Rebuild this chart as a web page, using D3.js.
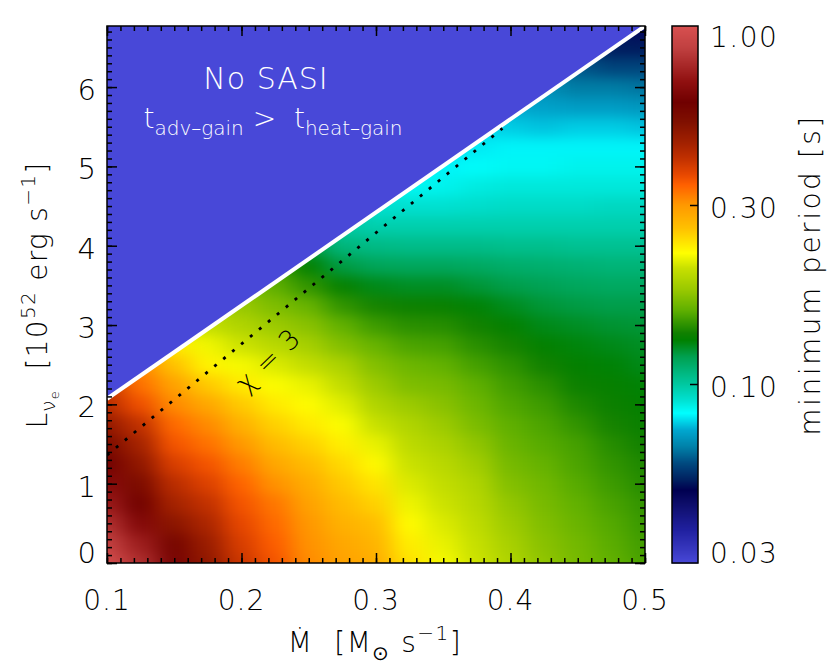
<!DOCTYPE html>
<html>
<head>
<meta charset="utf-8">
<script src="https://cdn.jsdelivr.net/npm/d3@7"></script>
<style>
  body { margin: 0; background: #fff; }
  svg text { font-family: "DejaVu Sans", sans-serif; font-weight: 200; }
</style>
</head>
<body>
<script>
// accretion rate grid (columns) and luminosity grid (rows)
var mdot = [0.1, 0.125, 0.15, 0.175, 0.2, 0.225, 0.25, 0.275, 0.3, 0.325, 0.35, 0.375, 0.4, 0.425, 0.45, 0.475, 0.5]
var lum = [0, 0.25, 0.5, 0.75, 1, 1.25, 1.5, 1.75, 2, 2.25, 2.5, 2.75, 3, 3.25, 3.5, 3.75, 4, 4.25, 4.5, 4.75, 5, 5.25, 5.5, 5.75, 6, 6.25, 6.5, 6.75]

// minimum period [s], one list per mdot column, starting at lum = 0 (stops just above the SASI limit)
var period = [
  [0.97, 0.88, 0.80, 0.72, 0.66, 0.61, 0.54, 0.48, 0.42, 0.40],
  [0.80, 0.73, 0.65, 0.59, 0.54, 0.49, 0.45, 0.41, 0.36, 0.33, 0.31],
  [0.62, 0.57, 0.50, 0.45, 0.42, 0.385, 0.355, 0.335, 0.31, 0.29, 0.26, 0.235],
  [0.49, 0.47, 0.44, 0.41, 0.38, 0.355, 0.33, 0.31, 0.285, 0.255, 0.23, 0.218, 0.20],
  [0.40, 0.385, 0.37, 0.355, 0.34, 0.32, 0.30, 0.275, 0.255, 0.235, 0.22, 0.205, 0.19, 0.178, 0.168],
  [0.355, 0.345, 0.335, 0.325, 0.305, 0.285, 0.265, 0.25, 0.235, 0.222, 0.21, 0.195, 0.18, 0.168, 0.157, 0.148],
  [0.31, 0.305, 0.30, 0.29, 0.28, 0.265, 0.25, 0.235, 0.225, 0.215, 0.20, 0.185, 0.172, 0.16, 0.145, 0.132, 0.12],
  [0.29, 0.285, 0.275, 0.265, 0.255, 0.245, 0.232, 0.222, 0.212, 0.20, 0.188, 0.17, 0.158, 0.145, 0.133, 0.12, 0.108, 0.099],
  [0.28, 0.272, 0.263, 0.25, 0.238, 0.226, 0.215, 0.203, 0.19, 0.18, 0.17, 0.16, 0.148, 0.138, 0.127, 0.116, 0.106, 0.097, 0.09],
  [0.24, 0.233, 0.225, 0.217, 0.21, 0.204, 0.197, 0.19, 0.18, 0.168, 0.162, 0.152, 0.143, 0.135, 0.125, 0.115, 0.105, 0.097, 0.09, 0.084],
  [0.22, 0.215, 0.21, 0.205, 0.2, 0.195, 0.188, 0.18, 0.172, 0.166, 0.158, 0.15, 0.142, 0.134, 0.125, 0.115, 0.105, 0.097, 0.09, 0.085, 0.081, 0.078],
  [0.205, 0.202, 0.198, 0.194, 0.19, 0.183, 0.175, 0.167, 0.162, 0.157, 0.15, 0.143, 0.137, 0.13, 0.122, 0.114, 0.105, 0.097, 0.091, 0.087, 0.083, 0.08, 0.078],
  [0.19, 0.186, 0.181, 0.176, 0.17, 0.165, 0.161, 0.157, 0.153, 0.149, 0.144, 0.138, 0.132, 0.126, 0.119, 0.112, 0.104, 0.097, 0.092, 0.088, 0.084, 0.081, 0.077, 0.073],
  [0.175, 0.172, 0.169, 0.166, 0.163, 0.159, 0.155, 0.152, 0.148, 0.143, 0.137, 0.132, 0.127, 0.122, 0.117, 0.111, 0.104, 0.097, 0.092, 0.088, 0.084, 0.081, 0.076, 0.072, 0.068],
  [0.166, 0.164, 0.161, 0.158, 0.155, 0.152, 0.15, 0.145, 0.14, 0.135, 0.132, 0.129, 0.125, 0.12, 0.115, 0.11, 0.103, 0.097, 0.092, 0.088, 0.085, 0.081, 0.077, 0.071, 0.065, 0.06],
  [0.158, 0.156, 0.154, 0.151, 0.148, 0.145, 0.142, 0.138, 0.135, 0.133, 0.13, 0.127, 0.123, 0.119, 0.114, 0.109, 0.103, 0.097, 0.093, 0.088, 0.085, 0.081, 0.077, 0.071, 0.065, 0.058, 0.052],
  [0.151, 0.149, 0.147, 0.145, 0.142, 0.14, 0.137, 0.134, 0.132, 0.13, 0.127, 0.125, 0.122, 0.119, 0.114, 0.109, 0.103, 0.097, 0.093, 0.088, 0.085, 0.081, 0.076, 0.07, 0.064, 0.058, 0.052, 0.047]
]

// SASI limit (white line) and chi = 3 (dotted line)
var limitMdot = [0.1, 0.5]
var limitLum = [2.07, 6.77]
var chiMdot = [0.1, 0.394]
var chiLum = [1.36, 5.48]

var mdotRange = [0.1, 0.5]
var lumRange = [0, 6.77]
var xTicks = [0.1, 0.2, 0.3, 0.4, 0.5]
var xTickLabels = ["0.1", "0.2", "0.3", "0.4", "0.5"]
var yTicks = [0, 1, 2, 3, 4, 5, 6]
var cbTicks = [0.03, 0.1, 0.3, 1]
var cbTickLabels = ["0.03", "0.10", "0.30", "1.00"]

// colour table, position along the bar (0 bottom .. 1 top)
var paletteStops = [0, .024, .061, .104, .136, .155, .186, .216, .248, .279, .304, .333, .354, .384, .415, .428,
  .471, .508, .549, .577, .624, .667, .704, .723, .754, .784, .821, .858, .897, .927, .959, 1]
var paletteColors = ["#4848d8", "#3838c0", "#2020a0", "#101070", "#000050", "#002060", "#004a80", "#0080a8", "#00a8d0",
  "#00ffff", "#00e0d0", "#00c8a0", "#00b880", "#00a050", "#008000", "#108000", "#60b000", "#98c800", "#c8e000",
  "#ffff00", "#ffc000", "#ff9800", "#ff6000", "#e84800", "#c03000", "#a02000", "#801000", "#700000", "#901010",
  "#a82828", "#c04040", "#d85050"]

var width = 830,
    height = 671,
    pLeft = 107, pRight = 645, pTop = 26, pBottom = 563

var svg = d3.select("body")
  .append("svg")
  .attr("width", width)
  .attr("height", height)

var x = d3.scaleLinear().domain(mdotRange).range([pLeft, pRight])
var y = d3.scaleLinear().domain(lumRange).range([pBottom, pTop])
var cb = d3.scaleLog().domain(cbTicks).range([pBottom, 384, 205, pTop])
var cbPos = d3.scaleLog().domain(cbTicks).range([0, 1 / 3, 2 / 3, 1]).clamp(true)
var palette = d3.scaleLinear().domain(paletteStops).range(paletteColors).interpolate(d3.interpolateRgb)
function colorOf(v) { return palette(cbPos(v)) }

var defs = svg.append("defs")
defs.append("clipPath").attr("id", "plotclip")
  .append("rect").attr("x", pLeft).attr("y", pTop).attr("width", pRight - pLeft).attr("height", pBottom - pTop)

var smooth = defs.append("filter").attr("id", "smooth")
  .attr("filterUnits", "userSpaceOnUse")
  .attr("x", 0).attr("y", 0).attr("width", width).attr("height", height)
  .attr("color-interpolation-filters", "sRGB")
smooth.append("feGaussianBlur").attr("stdDeviation", "11 6.5")
smooth.append("feComponentTransfer").append("feFuncA").attr("type", "linear").attr("slope", 40).attr("intercept", 0)

var cells = []
period.forEach(function(col, i) {
  col.forEach(function(v, j) { cells.push({ m: mdot[i], l: lum[j], v: v }) })
})
var dm = (mdot[1] - mdot[0]) / 2,
    dl = (lum[1] - lum[0]) / 2

var plot = svg.append("g").attr("clip-path", "url(#plotclip)")

plot.append("g")
  .attr("filter", "url(#smooth)")
  .selectAll("rect")
  .data(cells)
  .enter().append("rect")
  .attr("x", function(d) { return x(d.m - dm) - 0.5 })
  .attr("y", function(d) { return y(d.l + dl) - 0.5 })
  .attr("width", function(d) { return x(d.m + dm) - x(d.m - dm) + 1 })
  .attr("height", function(d) { return y(d.l - dl) - y(d.l + dl) + 1 })
  .attr("fill", function(d) { return colorOf(d.v) })

// no SASI region
plot.append("path")
  .attr("d", "M" + x(limitMdot[0]) + "," + y(limitLum[0]) +
    "L" + x(limitMdot[1]) + "," + y(limitLum[1]) +
    "L" + x(limitMdot[1]) + "," + (pTop - 5) +
    "L" + (pLeft - 5) + "," + (pTop - 5) +
    "L" + (pLeft - 5) + "," + y(limitLum[0]) + "Z")
  .attr("fill", colorOf(cbTicks[0]))

plot.append("line")
  .attr("x1", x(limitMdot[0])).attr("y1", y(limitLum[0]))
  .attr("x2", x(limitMdot[1])).attr("y2", y(limitLum[1]))
  .attr("stroke", "#fff").attr("stroke-width", 4)

plot.append("line")
  .attr("x1", x(chiMdot[0])).attr("y1", y(chiLum[0]))
  .attr("x2", x(chiMdot[1])).attr("y2", y(chiLum[1]))
  .attr("stroke", "#000").attr("stroke-width", 2.8)
  .attr("stroke-dasharray", "3 8.6")

svg.append("text")
  .attr("transform", "translate(268,360) rotate(-44)")
  .attr("text-anchor", "middle")
  .attr("dominant-baseline", "central")
  .style("white-space", "pre")
  .attr("font-size", 27)
  .attr("letter-spacing", 1)
  .attr("fill", "#000")
  .text("χ = 3")

svg.append("text")
  .attr("x", 266).attr("y", 89)
  .attr("text-anchor", "middle")
  .attr("font-size", 30)
  .attr("letter-spacing", 1)
  .style("white-space", "pre")
  .attr("fill", "#fff")
  .text("No SASI")

var tl = svg.append("text")
  .attr("x", 273).attr("y", 128)
  .attr("text-anchor", "middle")
  .attr("font-size", 28)
  .attr("fill", "#fff")
  .style("white-space", "pre")
tl.append("tspan").text("t")
tl.append("tspan").attr("font-size", 20).attr("dy", 7).text("adv–gain")
tl.append("tspan").attr("dy", -7).text(" >  t")
tl.append("tspan").attr("font-size", 20).attr("dy", 7).text("heat–gain")

// frame and ticks
svg.append("rect")
  .attr("x", pLeft).attr("y", pTop).attr("width", pRight - pLeft).attr("height", pBottom - pTop)
  .attr("fill", "none").attr("stroke", "#000").attr("stroke-width", 1.5)

function tickGroup(axis, tx, ty) {
  svg.append("g")
    .attr("transform", "translate(" + tx + "," + ty + ")")
    .call(axis)
    .call(function(g) { g.select(".domain").remove() })
    .call(function(g) { g.selectAll("line").attr("stroke-width", 1.5) })
}
tickGroup(d3.axisBottom(x).tickValues(xTicks).tickSize(-10).tickFormat(""), 0, pBottom)
tickGroup(d3.axisBottom(x).ticks(40).tickSize(-5).tickFormat(""), 0, pBottom)
tickGroup(d3.axisTop(x).tickValues(xTicks).tickSize(-10).tickFormat(""), 0, pTop)
tickGroup(d3.axisTop(x).ticks(40).tickSize(-5).tickFormat(""), 0, pTop)
tickGroup(d3.axisLeft(y).tickValues(yTicks).tickSize(-10).tickFormat(""), pLeft, 0)
tickGroup(d3.axisLeft(y).ticks(68).tickSize(-5).tickFormat(""), pLeft, 0)
tickGroup(d3.axisRight(y).tickValues(yTicks).tickSize(-10).tickFormat(""), pRight, 0)
tickGroup(d3.axisRight(y).ticks(68).tickSize(-5).tickFormat(""), pRight, 0)

svg.append("g").selectAll("text")
  .data(xTicks)
  .enter().append("text")
  .attr("x", function(d) { return x(d) })
  .attr("y", 610)
  .attr("text-anchor", "middle")
  .attr("font-size", 28)
  .attr("letter-spacing", 1)
  .text(function(d, i) { return xTickLabels[i] })

svg.append("g").selectAll("text")
  .data(yTicks)
  .enter().append("text")
  .attr("x", 96)
  .attr("y", function(d) { return Math.min(y(d) + 3, pBottom - 10) + 10 })
  .attr("text-anchor", "end")
  .attr("font-size", 29)
  .text(function(d) { return d })

var xt = svg.append("text")
  .attr("x", 375).attr("y", 652)
  .attr("text-anchor", "middle")
  .attr("font-size", 28)
  .attr("letter-spacing", 1.5)
  .style("white-space", "pre")
xt.append("tspan").text("Ṁ  [M")
xt.append("tspan").attr("font-size", 20).attr("dy", 8).text("⊙")
xt.append("tspan").attr("dy", -8).text(" s")
xt.append("tspan").attr("font-size", 20).attr("dy", -12).text("−1")
xt.append("tspan").attr("dy", 12).text("]")

var yt = svg.append("text")
  .attr("transform", "translate(47,295) rotate(-90)")
  .attr("text-anchor", "middle")
  .attr("font-size", 28)
  .attr("letter-spacing", 1.3)
  .style("white-space", "pre")
yt.append("tspan").text("L")
yt.append("tspan").attr("font-size", 20).attr("dy", 8).text("ν")
yt.append("tspan").attr("font-size", 13).attr("dy", 4).text("e")
yt.append("tspan").attr("dy", -12).text("  [10")
yt.append("tspan").attr("font-size", 20).attr("dy", -12).text("52")
yt.append("tspan").attr("dy", 12).text(" erg s")
yt.append("tspan").attr("font-size", 20).attr("dy", -12).text("−1")
yt.append("tspan").attr("dy", 12).text("]")

// colour bar
var cbX = 672, cbW = 26
svg.append("g").selectAll("rect")
  .data(d3.range(pTop, pBottom))
  .enter().append("rect")
  .attr("x", cbX).attr("y", function(d) { return d })
  .attr("width", cbW).attr("height", 1.5)
  .attr("fill", function(d) { return colorOf(cb.invert(d + 0.5)) })

svg.append("rect")
  .attr("x", cbX).attr("y", pTop).attr("width", cbW).attr("height", pBottom - pTop)
  .attr("fill", "none").attr("stroke", "#000").attr("stroke-width", 1.5)

tickGroup(d3.axisRight(cb).tickValues([0.1, 0.3]).tickSize(-8).tickFormat(""), cbX + cbW, 0)

svg.append("g").selectAll("text")
  .data(cbTicks)
  .enter().append("text")
  .attr("x", 710)
  .attr("y", function(d) { return Math.max(Math.min(cb(d) + 3, pBottom - 10), pTop + 11) + 10 })
  .attr("font-size", 28)
  .attr("letter-spacing", 1.5)
  .text(function(d, i) { return cbTickLabels[i] })

svg.append("text")
  .attr("transform", "translate(820,275) rotate(-90)")
  .attr("text-anchor", "middle")
  .attr("font-size", 28)
  .attr("letter-spacing", 2.5)
  .style("white-space", "pre")
  .text("minimum period [s]")
</script>
</body>
</html>
